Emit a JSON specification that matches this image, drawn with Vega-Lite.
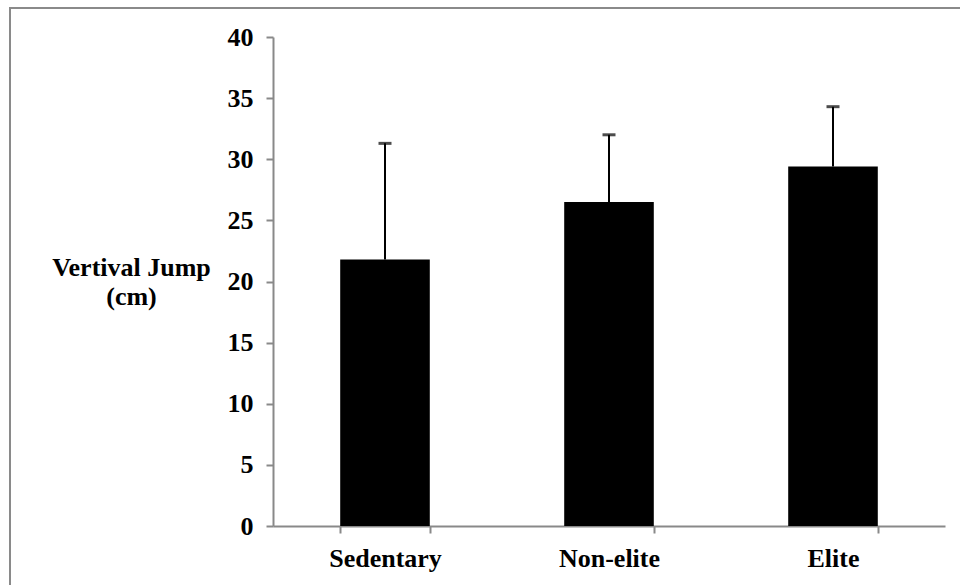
{
  "$schema": "https://vega.github.io/schema/vega-lite/v6.json",
  "width": 955,
  "height": 582,
  "autosize": {"type": "none"},
  "padding": {"left": 10, "top": 8, "right": 0, "bottom": 0},
  "background": "white",
  "config": {
    "view": {"stroke": "#8a8a8a", "strokeWidth": 2},
    "font": "Liberation Serif"
  },
  "data": {
    "values": [
      {"group": "Sedentary", "mean": 21.8, "upper": 31.3},
      {"group": "Non-elite", "mean": 26.5, "upper": 32.0},
      {"group": "Elite", "mean": 29.4, "upper": 34.3}
    ]
  },
  "encoding": {
    "x": {
      "field": "group",
      "type": "nominal",
      "sort": null,
      "scale": {"range": [263, 935], "paddingInner": 0.6, "paddingOuter": 0.3},
      "axis": {
        "title": null,
        "orient": "bottom",
        "offset": -64,
        "labelAngle": 0,
        "labelFont": "Liberation Serif",
        "labelFontSize": 26,
        "labelFontWeight": "bold",
        "labelColor": "black",
        "labelPadding": 12,
        "tickSize": 7,
        "tickColor": "#898989",
        "tickWidth": 2,
        "domainColor": "#898989",
        "domainWidth": 2,
        "tickBand": "extent",
        "grid": false
      }
    }
  },
  "layer": [
    {
      "mark": {"type": "bar", "color": "black"},
      "encoding": {
        "y": {
          "field": "mean",
          "type": "quantitative",
          "scale": {"domain": [0, 40], "range": [518, 29], "nice": false},
          "axis": {
            "title": ["Vertival Jump", "(cm)"],
            "offset": -263,
            "values": [0, 5, 10, 15, 20, 25, 30, 35, 40],
            "grid": false,
            "labelFont": "Liberation Serif",
            "labelFontSize": 26,
            "labelFontWeight": "bold",
            "labelColor": "black",
            "labelPadding": 13,
            "tickSize": 7,
            "tickColor": "#898989",
            "tickWidth": 2,
            "domainColor": "#898989",
            "domainWidth": 2,
            "titleAngle": 0,
            "titleX": -142,
            "titleY": 267,
            "titleAlign": "center",
            "titleBaseline": "alphabetic",
            "titleFont": "Liberation Serif",
            "titleFontSize": 26,
            "titleFontWeight": "bold",
            "titleColor": "black",
            "titleLineHeight": 29
          }
        }
      }
    },
    {
      "mark": {"type": "rule", "color": "black", "strokeWidth": 2},
      "encoding": {
        "y": {"field": "mean", "type": "quantitative"},
        "y2": {"field": "upper"}
      }
    },
    {
      "mark": {"type": "tick", "color": "black", "thickness": 3, "size": 13},
      "encoding": {
        "y": {"field": "upper", "type": "quantitative"}
      }
    }
  ]
}
